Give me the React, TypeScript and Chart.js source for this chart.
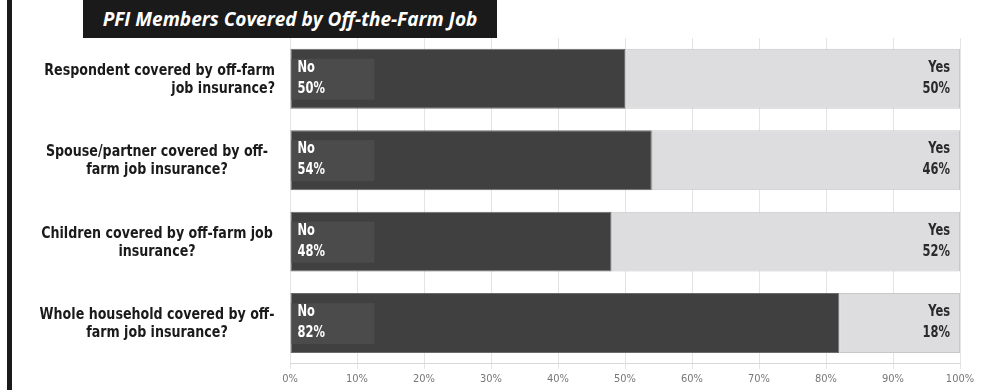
import React, { useEffect, useRef } from "react";
import { Chart, registerables } from "chart.js";

Chart.register(...registerables);

const titleText = "PFI Members Covered by Off-the-Farm Job";
const categories: string[][] = [
  ["Respondent covered by off-farm", "job insurance?"],
  ["Spouse/partner covered by off-", "farm job insurance?"],
  ["Children covered by off-farm job", "insurance?"],
  ["Whole household covered by off-", "farm job insurance?"],
];
const seriesNames = ["No", "Yes"];
const noValues = [50, 54, 48, 82];
const yesValues = [50, 46, 52, 18];

const FONT = "'DejaVu Sans Condensed', 'DejaVu Sans', sans-serif";

function squeezeText(ctx: any, text: string, x: number, y: number, sx: number) {
  ctx.save();
  ctx.translate(x, y);
  ctx.scale(sx, 1);
  ctx.fillText(text, 0, 0);
  ctx.restore();
}

const labelPlugin = {
  id: "customLabels",
  afterDatasetsDraw(chart: any) {
    const ctx = chart.ctx;
    const m0 = chart.getDatasetMeta(0);
    const m1 = chart.getDatasetMeta(1);
    ctx.save();
    ctx.font = `bold 15px ${FONT}`;
    ctx.textBaseline = "middle";
    m0.data.forEach((bar: any, i: number) => {
      const p = bar.getProps(["x", "y", "base", "height"], true);
      const left = p.base;
      ctx.fillStyle = "#4b4b4b";
      ctx.fillRect(left + 1, p.y - 20, 83, 41);
      ctx.fillStyle = "#ffffff";
      ctx.textAlign = "left";
      squeezeText(ctx, seriesNames[0], left + 7, p.y - 11, 0.85);
      squeezeText(ctx, noValues[i] + "%", left + 7, p.y + 10, 0.85);
    });
    m1.data.forEach((bar: any, i: number) => {
      const p = bar.getProps(["x", "y"], true);
      ctx.fillStyle = "#2a2a2a";
      ctx.textAlign = "right";
      squeezeText(ctx, seriesNames[1], p.x - 10, p.y - 11, 0.85);
      squeezeText(ctx, yesValues[i] + "%", p.x - 10, p.y + 10, 0.85);
    });
    // category labels
    const yScale = chart.scales.y;
    ctx.fillStyle = "#1a1a1a";
    ctx.font = `bold 16px ${FONT}`;
    categories.forEach((lines, i) => {
      const cy = yScale.getPixelForValue(i);
      ctx.textAlign = i === 0 ? "right" : "center";
      const x = i === 0 ? 275 : 157;
      squeezeText(ctx, lines[0], x, cy - 8, 0.88);
      squeezeText(ctx, lines[1], x, cy + 10, 0.88);
    });
    ctx.restore();
  },
};

export default function App() {
  const ref = useRef<HTMLCanvasElement>(null);
  useEffect(() => {
    document.body.style.margin = "0";
    const chart = new Chart(ref.current!, {
      type: "bar",
      data: {
        labels: categories.map((c) => c.join(" ")),
        datasets: [
          {
            label: seriesNames[0],
            data: noValues,
            backgroundColor: "#404040",
            borderColor: "#6a6a6a",
            borderWidth: 1,
            borderSkipped: false,
            barPercentage: 0.92,
            categoryPercentage: 0.8,
          },
          {
            label: seriesNames[1],
            data: yesValues,
            backgroundColor: "#dddcde",
            borderColor: "#c8c8c8",
            borderWidth: 1,
            borderSkipped: false,
            barPercentage: 0.92,
            categoryPercentage: 0.8,
          },
        ],
      },
      options: {
        indexAxis: "y",
        animation: false,
        responsive: false,
        maintainAspectRatio: false,
        layout: { padding: { left: 290, right: 36, top: 38, bottom: 0 } },
        plugins: { legend: { display: false }, tooltip: { enabled: false }, title: { display: false } },
        scales: {
          x: {
            stacked: true,
            min: 0,
            max: 100,
            ticks: {
              stepSize: 10,
              callback: (v: any) => v + "%",
              color: "#777",
              font: { family: FONT, size: 11 },
              padding: 4,
              maxRotation: 0,
            },
            grid: { color: "#e4e4e4", tickLength: 5, drawTicks: true },
            border: { color: "#d8d8d8" },
          },
          y: {
            stacked: true,
            display: false,
            grid: { display: false },
          },
        },
      },
      plugins: [labelPlugin],
    });
    return () => chart.destroy();
  }, []);
  return (
    <div style={{ position: "fixed", left: 0, top: 0, width: 996, height: 390, background: "#fff" }}>
      <canvas ref={ref} width={996} height={390} style={{ position: "absolute", left: 0, top: 0 }} />
      <div style={{ position: "absolute", left: 7, top: 0, width: 5, height: 390, background: "#1a1a1a" }} />
      <div
        style={{
          position: "absolute",
          left: 83,
          top: 0,
          width: 414,
          height: 38,
          background: "#1a1a1a",
          color: "#fff",
          fontFamily: "'Open Sans', sans-serif",
          fontWeight: 700,
          fontStyle: "italic",
          fontSize: 19,
          lineHeight: "38px",
          textAlign: "center",
          whiteSpace: "nowrap",
        }}
      >
        {titleText}
      </div>
    </div>
  );
}
